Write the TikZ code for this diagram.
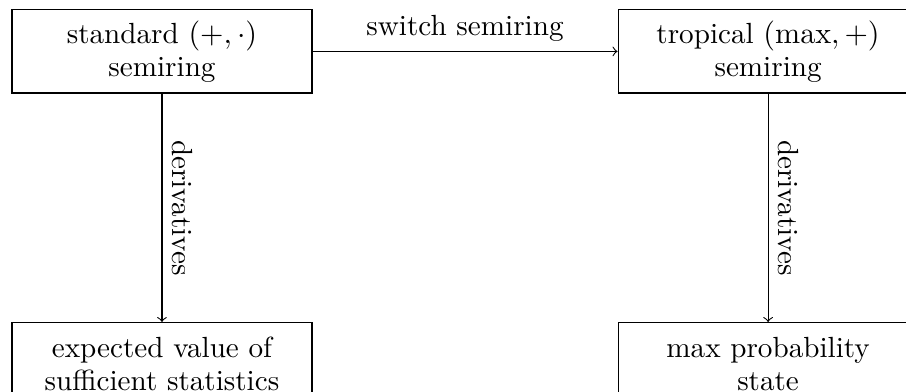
\documentclass[tikz,border=0pt]{standalone}
\usetikzlibrary{positioning}
\tikzset{
  every node/.append style={font=\fontsize{10.6pt}{12pt}\selectfont},
  box/.style={draw, text width=3.6cm, align=center, minimum height=30.2pt, inner sep=3.33pt},
  conn/.style={->},
  lbl/.style={inner sep=3.33pt},
}
\begin{document}
\begin{tikzpicture}[x=1pt,y=1pt]
\clip (0,0) rectangle (329.45,-142.18);
\node[box] (std) at (58.9,-18.7) {standard $(+,\cdot)$\\ semiring};
\node[box] (trop) at (279.3,-18.7) {tropical $(\max,+)$\\ semiring};
\node[box, anchor=north] (exp) at (58.9,-117.1) {expected value of\\ sufficient statistics};
\node[box, anchor=north] (maxp) at (279.3,-117.1) {max probability\\ state};
\draw[conn] (std) -- node[lbl, midway, above] {switch semiring} (trop);
\draw[conn] (std) -- node[lbl, midway, anchor=south, rotate=-90] {derivatives} (exp);
\draw[conn] (trop) -- node[lbl, midway, anchor=south, rotate=-90] {derivatives} (maxp);
\end{tikzpicture}
\end{document}
